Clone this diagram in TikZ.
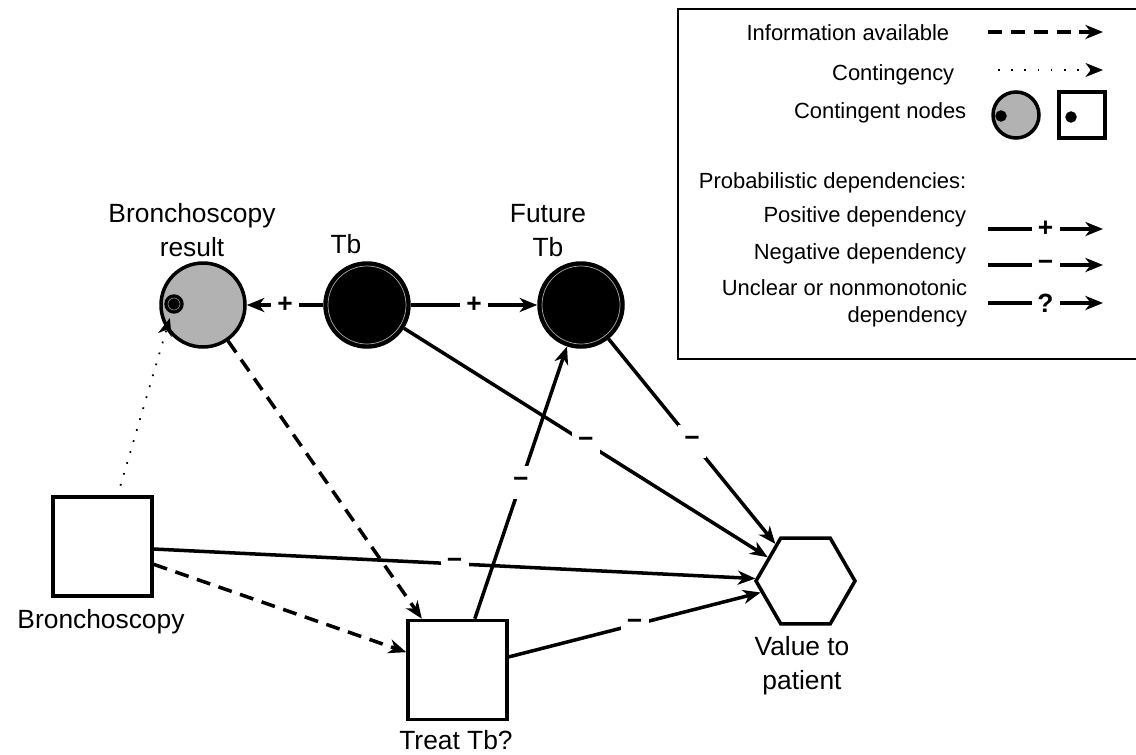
\documentclass[tikz,border=0pt]{standalone}
\usepackage{fontspec}
\setmainfont{Liberation Sans}
\usepackage{tikz}
\usetikzlibrary{positioning}
\usetikzlibrary{arrows.meta,shapes.geometric}
\newcommand{\negsign}{\char"2212}

\begin{document}
\begin{tikzpicture}[x=0.02cm,y=-0.02cm,line width=2pt,
	>={Stealth[length=10pt,width=8pt,inset=3pt]},
	lbl/.style={font=\fontsize{15}{19}\selectfont,align=center,inner sep=0pt,anchor=north},
	leg/.style={font=\fontsize{12.5}{15.5}\selectfont,align=right,inner sep=0pt,anchor=east},
	chance/.style={circle,draw,minimum size=1.68cm,inner sep=0pt},
	choice/.style={rectangle,draw,minimum size=1.98cm,inner sep=0pt},
	hexa/.style={regular polygon,regular polygon sides=6,draw,minimum size=1.98cm,inner sep=0pt},
	spot/.style={circle,draw,fill=black,inner sep=0pt,line width=0.8pt},
	sign/.style={fill=white,inner sep=0pt,minimum width=0.56cm,minimum height=0.66cm,font=\fontsize{15}{15}\selectfont\bfseries},
	info/.style={->,dash pattern=on 8pt off 5pt},
	cont/.style={->,line width=1pt,dash pattern=on 1pt off 5.5pt}]

		\useasboundingbox (0,0) rectangle (1136,754);

		%Legend
		\draw[line width=1.2pt] (678,9) rectangle (1150,359);
		\node[leg] (lInfo) at (951,33) {Information available};
		\node[leg] (lCont) at (956,75) {Contingency};
		\node[leg] (lNodes) at (968,113) {Contingent nodes};
		\node[leg] (lProb) at (968,183) {Probabilistic dependencies:};
		\node[leg] (lPos) at (968,217) {Positive dependency};
		\node[leg] (lNeg) at (968,254) {Negative dependency};
		\node[leg] (lUnc) at (969,303) {Unclear or nonmonotonic\\dependency};
		\coordinate (infoA) at (988,32);
		\coordinate (infoB) at (1103,32);
		\draw[info] (infoA) -- (infoB);
		\coordinate (contA) at (998,70);
		\coordinate (contB) at (1103,70);
		\draw[cont,dash pattern=on 1pt off 6.5pt] (contA) -- (contB);
		\node[chance,fill=gray!60,minimum size=0.92cm] (lCirc) at (1016,115) {};
		\node[spot,minimum size=0.2cm] (lCircDot) at (1001,116) {};
		\node[choice,minimum size=0.92cm] (lSq) at (1082,115) {};
		\node[spot,minimum size=0.2cm] (lSqDot) at (1071,117) {};
		\foreach \yy/\sg/\nm in {229/+/pos,265/\negsign/neg,303/?/unc}
		{
		\coordinate (\nm A) at (988,\yy);
		\coordinate (\nm B) at (1103,\yy);
		\draw[->] (\nm A) -- node[sign] {\sg} (\nm B);
		}

		%Nodes of the diagram
		\node[chance,fill=gray!60] (br) at (203,305) {};
		\node[spot,minimum size=0.36cm] (brdot) at (174,304) {};
		\draw[gray!70,line width=0.3pt] (brdot) circle (0.12cm);
		\node[chance,fill=black] (tb) at (367,305) {};
		\draw[gray!70,line width=0.4pt] (tb) circle (0.78cm);
		\node[chance,fill=black] (ftb) at (581,305) {};
		\draw[gray!70,line width=0.4pt] (ftb) circle (0.78cm);
		\node[choice] (bronch) at (102.5,546.5) {};
		\node[choice] (treat) at (457.5,670) {};
		\node[hexa] (val) at (805.5,581) {};

		\node[lbl] (brText) at (192,202) {Bronchoscopy\\result};
		\node[lbl] (tbText) at (346,233) {Tb};
		\node[lbl] (ftbText) at (548,203) {Future\\Tb};
		\node[lbl] (bronchText) at (101,608) {Bronchoscopy};
		\node[lbl] (treatText) at (456,729) {Treat Tb?};
		\node[lbl] (valText) at (802,635) {Value to\\patient};

		%Probabilistic dependencies
		\draw[->] (tb) -- node[sign] {+} (br);
		\draw[->] (tb) -- node[sign] {+} (ftb);
		\draw[->] (tb) -- node[sign] {\negsign} (val);
		\draw[->] (ftb) -- node[sign] {\negsign} (val);
		\draw[->] (treat) -- node[sign] {\negsign} (ftb);
		\draw[->] (bronch) -- node[sign] {\negsign} (val);
		\draw[->] (treat) -- node[sign] {\negsign} (val);

		%Information and contingency
		\draw[info] (bronch) -- (treat);
		\draw[info] (br) -- (treat);
		\draw[cont,shorten <=0.2cm,shorten >=0.1cm] (bronch) -- (brdot);
\end{tikzpicture}
\end{document}
